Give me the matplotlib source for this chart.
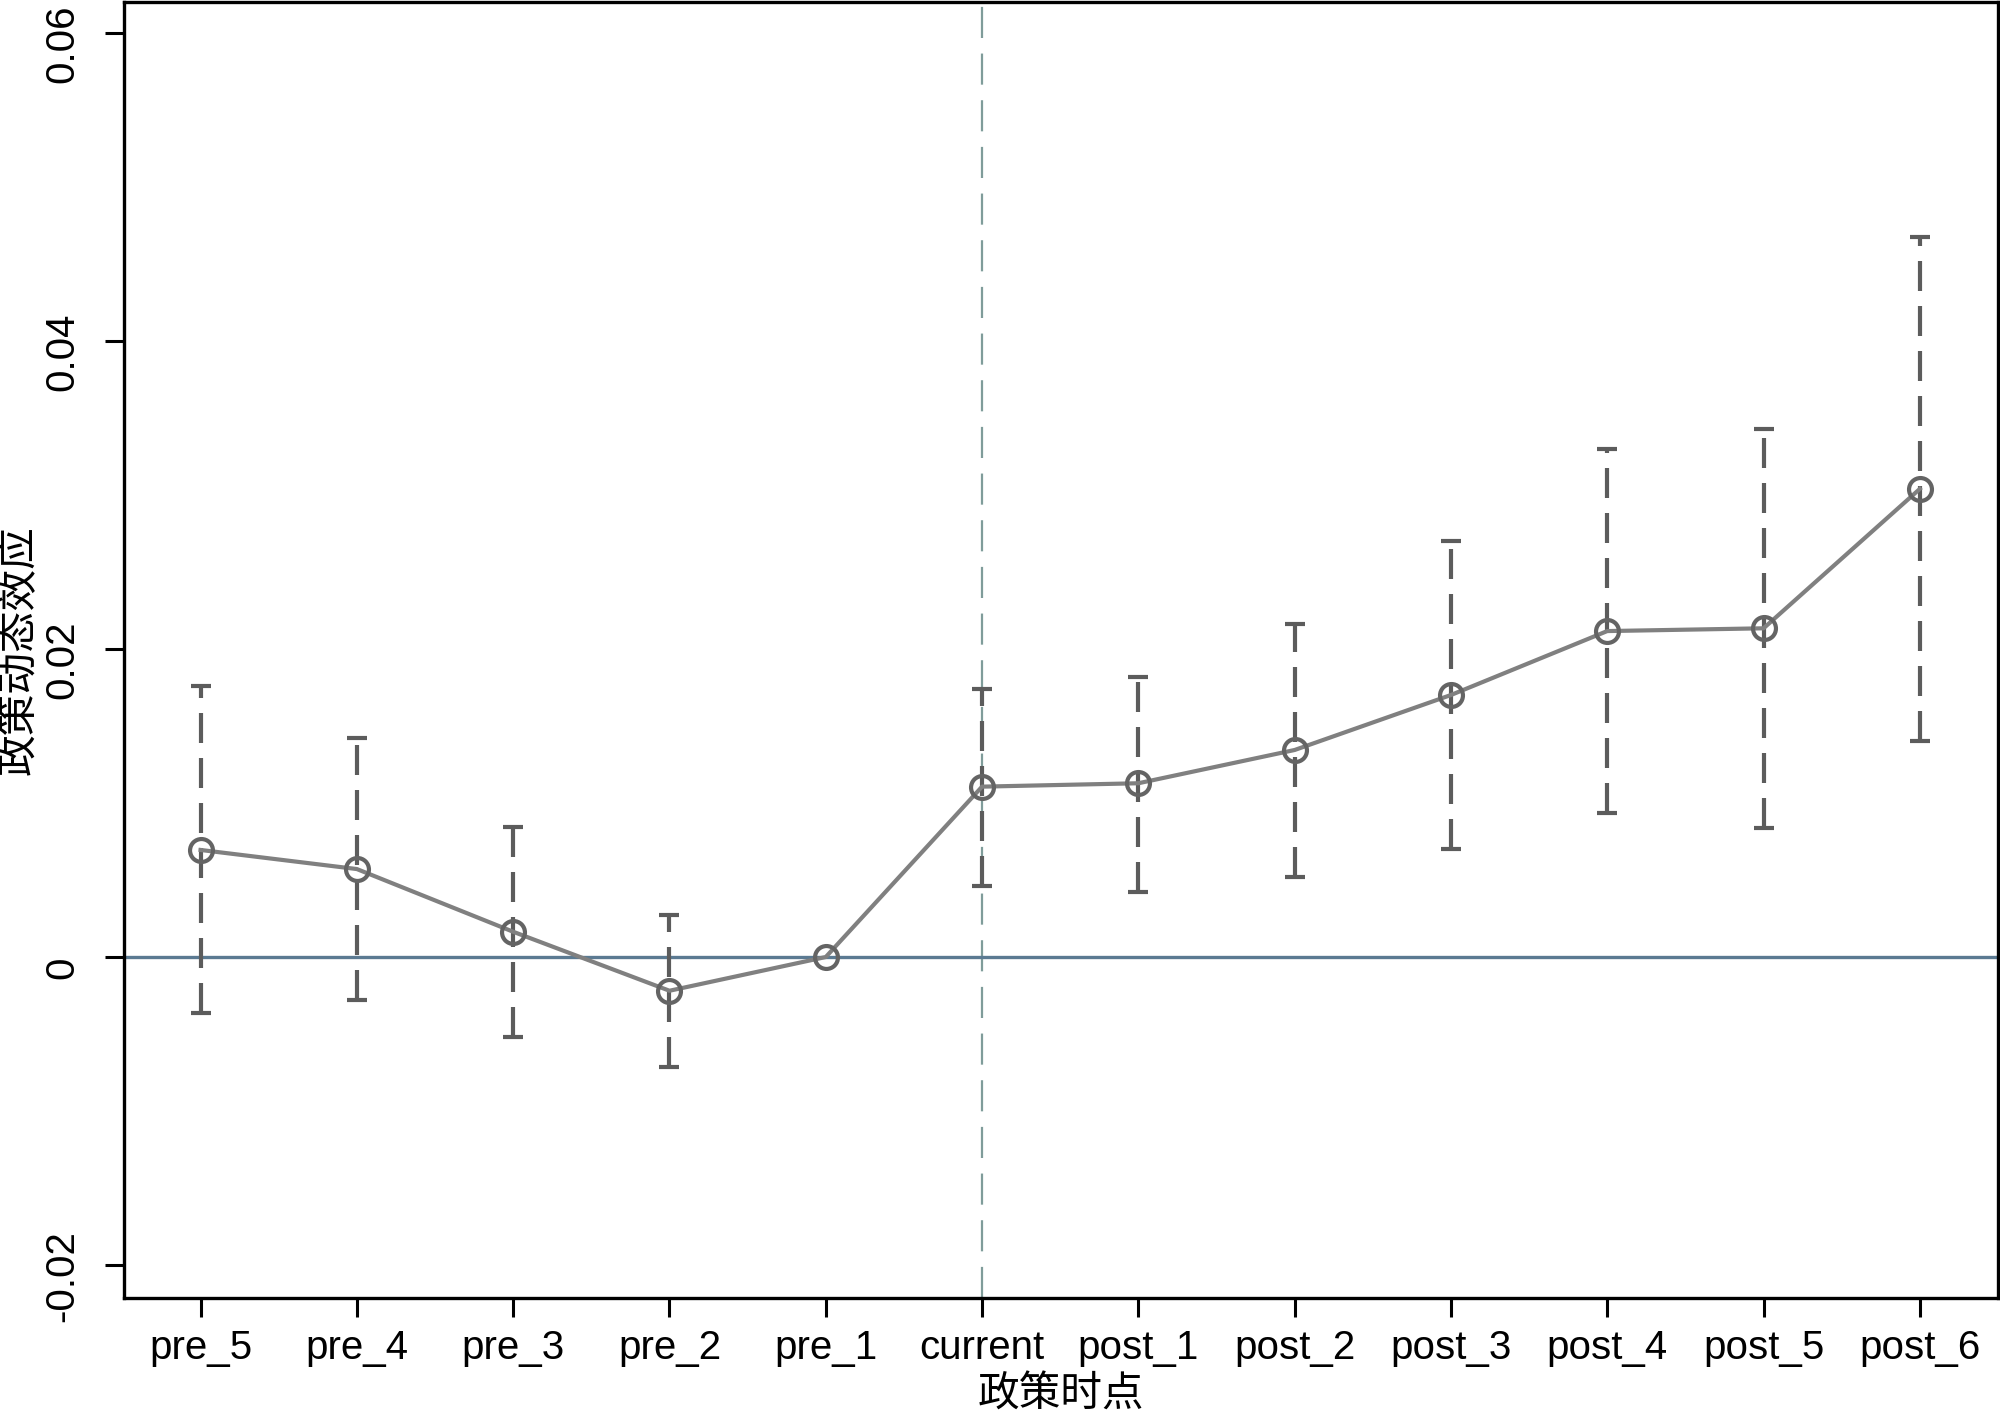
import numpy as np
import matplotlib
matplotlib.use("Agg")
import matplotlib.pyplot as plt
import matplotlib.transforms as mtransforms

categories = ["pre_5", "pre_4", "pre_3", "pre_2", "pre_1", "current",
              "post_1", "post_2", "post_3", "post_4", "post_5", "post_6"]
estimate = [0.00695, 0.00571, 0.00164, -0.00219, 0.0, 0.01106,
            0.01128, 0.01344, 0.01701, 0.02116, 0.02134, 0.03039]
ci_upper = [0.01762, 0.01420, 0.00842, 0.00272, np.nan, 0.01738,
            0.01820, 0.02160, 0.02703, 0.03300, 0.03429, 0.04673]
ci_lower = [-0.00362, -0.00279, -0.00521, -0.00712, np.nan, 0.00461,
            0.00424, 0.00521, 0.00699, 0.00936, 0.00837, 0.01403]
y_ticks = [-0.02, 0.0, 0.02, 0.04, 0.06]
y_ticklabels = ["-0.02", "0", "0.02", "0.04", "0.06"]
policy_index = 5

plt.rcParams['font.family'] = ['Liberation Sans', 'Noto Sans CJK SC', 'DejaVu Sans']

fig = plt.figure(figsize=(20, 14.14), dpi=100)
ax = fig.add_axes([0.062, 0.082, 0.937, 0.9166])

x = np.arange(len(categories))
est = np.array(estimate)
up = np.array(ci_upper)
lo = np.array(ci_lower)

# reference lines
ax.axvline(policy_index, color="#7f9c9a", lw=1.6, linestyle=(0, (14, 7)), zorder=1)
ax.axhline(0, color="#5b7a92", lw=2.4, zorder=2)

# confidence intervals
mask = ~np.isnan(up)
ax.vlines(x[mask], lo[mask], up[mask], colors="#5c5c5c", lw=3.0,
          linestyles=[(0, (7.2, 3.6))], zorder=3)
ax.plot(x[mask], up[mask], linestyle="none", marker="_", markersize=15,
        markeredgewidth=3.0, color="#5c5c5c", zorder=3)
ax.plot(x[mask], lo[mask], linestyle="none", marker="_", markersize=15,
        markeredgewidth=3.0, color="#5c5c5c", zorder=3)

# point estimates
ax.plot(x, est, color="#808080", lw=3.0, marker="o", markersize=16.5,
        markerfacecolor="none", markeredgecolor="#646464", markeredgewidth=3.0,
        zorder=4)

ax.set_xlim(-0.49, 11.5)
ax.set_ylim(-0.02214, 0.0620)
ax.set_xticks(x)
ax.set_xticklabels(categories, fontsize=29)
ax.set_yticks(y_ticks)
ax.set_yticklabels([])

for s in ax.spines.values():
    s.set_linewidth(2.4)
    s.set_color("black")

ax.tick_params(axis="both", direction="out", length=14, width=2.2, colors="black")
ax.tick_params(axis="x", pad=8)

# rotated y tick labels, slightly below their ticks as in the reference
ylab_trans = ax.get_yaxis_transform() + mtransforms.ScaledTranslation(
    -0.43, -0.11, fig.dpi_scale_trans)
for v, s in zip(y_ticks, y_ticklabels):
    ax.text(0, v, s, transform=ylab_trans, rotation=90, ha="right", va="center",
            fontsize=29, clip_on=False)

ax.set_xlabel("政策时点", fontsize=30, family=['Noto Sans CJK SC', 'DejaVu Sans'], labelpad=6)
ax.yaxis.set_label_coords(-0.045, 0.5)
ax.set_ylabel("政策动态效应", fontsize=30, family=['Noto Sans CJK SC', 'DejaVu Sans'])

fig.savefig("out.png", dpi=100, facecolor="white")
